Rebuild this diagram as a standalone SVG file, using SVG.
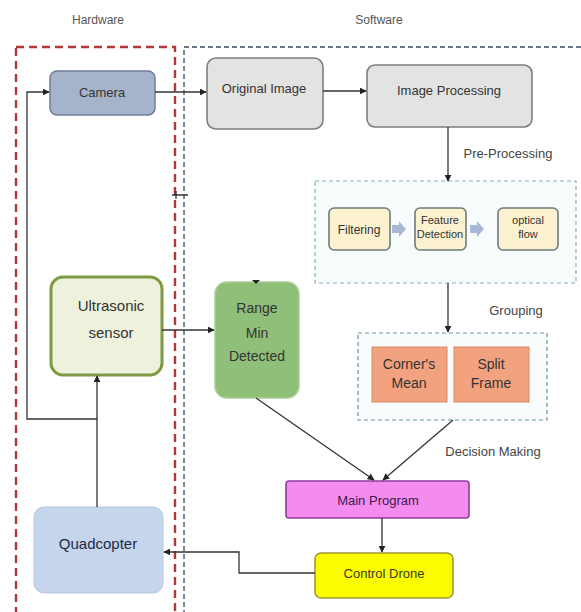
<svg xmlns="http://www.w3.org/2000/svg" width="581" height="612" viewBox="0 0 581 612">
<defs>
<style>
text{font-family:"Liberation Sans",Arial,sans-serif;fill:#333;text-anchor:middle;dominant-baseline:central}
.lbl{font-size:13px;fill:#444}
.hdr{font-size:12px;fill:#555}
.con{fill:none;stroke:#333;stroke-width:1.3}
.sm{font-size:11px}
.pb{fill:#fcf2cf;stroke:#6e7b7b;stroke-width:1.6}
.cb{fill:#f2a27f;stroke:#d98a62;stroke-width:1}
</style>
<marker id="ah" viewBox="0 0 10 10" refX="9" refY="5" markerWidth="7" markerHeight="7" orient="auto" markerUnits="userSpaceOnUse">
<path d="M0,0 L10,5 L0,10 z" fill="#222"/>
</marker>
</defs>
<rect width="581" height="612" fill="#fff"/>
<text class="hdr" x="98" y="20">Hardware</text>
<text class="hdr" x="379" y="20">Software</text>
<g id="hardware-area"><rect x="16" y="47" width="159" height="580" fill="none" stroke="#b03838" stroke-width="2.4" stroke-dasharray="8,5"/></g>
<g id="software-area"><rect x="184" y="47" width="400" height="580" fill="none" stroke="#3d4a66" stroke-width="1.3" stroke-dasharray="5,3"/></g>
<g id="pre-processing-box"><rect x="315" y="181" width="261" height="102" fill="#f8fcfd" stroke="#86aebb" stroke-width="1.2" stroke-dasharray="4,3"/></g>
<g id="grouping-box"><rect x="358" y="333" width="189" height="87" fill="#f8fcfd" stroke="#6f8fa0" stroke-width="1.2" stroke-dasharray="4,3"/></g>

<g id="camera"><rect x="50" y="71" width="105" height="44" rx="7" fill="#a5b3cb" stroke="#6f7f99" stroke-width="1.5"/><text x="102" y="92" font-size="13">Camera</text></g>
<g id="original-image"><rect x="207" y="58" width="116" height="71" rx="9" fill="#e3e3e3" stroke="#7d7d7d" stroke-width="1.6"/><text x="264" y="88" font-size="13">Original Image</text></g>
<g id="image-processing"><rect x="367" y="65" width="165" height="62" rx="8" fill="#e3e3e3" stroke="#7d7d7d" stroke-width="1.6"/><text x="449" y="90" font-size="13">Image Processing</text></g>
<g id="filtering"><rect class="pb" x="329" y="208" width="61" height="42" rx="5"/><text x="359" y="230" font-size="12">Filtering</text></g>
<g id="feature-detection"><rect class="pb" x="415" y="208" width="51" height="42" rx="5"/><text class="sm" x="440" y="220">Feature</text><text class="sm" x="440" y="234">Detection</text></g>
<g id="optical-flow"><rect class="pb" x="498" y="208" width="60" height="42" rx="5"/><text class="sm" x="528" y="220">optical</text><text class="sm" x="528" y="234">flow</text></g>
<g id="corners-mean"><rect class="cb" x="372" y="347" width="75" height="55"/><text x="409" y="364" font-size="14">Corner's</text><text x="409" y="383" font-size="14">Mean</text></g>
<g id="split-frame"><rect class="cb" x="454" y="347" width="75" height="55"/><text x="491" y="364" font-size="14">Split</text><text x="491" y="383" font-size="14">Frame</text></g>
<g id="ultrasonic-sensor"><rect x="51" y="277" width="111" height="98" rx="12" fill="#eef2dd" stroke="#7f9a44" stroke-width="3"/><text x="111" y="305" font-size="15">Ultrasonic</text><text x="111" y="332" font-size="15">sensor</text></g>
<g id="range-min-detected"><rect x="215" y="282" width="84" height="116" rx="12" fill="#8fbf78" stroke="#a9cf96" stroke-width="1.5"/><text x="257" y="308" font-size="14">Range</text><text x="257" y="333" font-size="14">Min</text><text x="257" y="356" font-size="14">Detected</text></g>
<g id="main-program"><rect x="286" y="481" width="183" height="37" rx="3" fill="#f48cf0" stroke="#8e3b9a" stroke-width="1.6"/><text x="378" y="500" font-size="13" style="fill:#3a1a48">Main Program</text></g>
<g id="control-drone"><rect x="315" y="553" width="138" height="45" rx="6" fill="#fcfc00" stroke="#9e9a3a" stroke-width="1.6"/><text x="384" y="573" font-size="13" style="fill:#3a3a1a">Control Drone</text></g>
<g id="quadcopter"><rect x="34" y="507" width="129" height="86" rx="10" fill="#c4d5ec" stroke="#b5c6df" stroke-width="1"/><text x="98" y="543" font-size="15" style="fill:#1f2a40">Quadcopter</text></g>

<text class="lbl" x="508" y="153">Pre-Processing</text>
<text class="lbl" x="516" y="310">Grouping</text>
<text class="lbl" x="493" y="451">Decision Making</text>

<g id="connectors">
<path class="con" d="M155,92 H206" marker-end="url(#ah)"/>
<path class="con" d="M323,91 H366" marker-end="url(#ah)"/>
<path class="con" d="M448,127 V181" marker-end="url(#ah)"/>
<path class="con" d="M448,283 V332" marker-end="url(#ah)"/>
<path class="con" d="M162,330 H214" marker-end="url(#ah)"/>
<path class="con" d="M256,398 L374,480" marker-end="url(#ah)"/>
<path class="con" d="M453,420 L383,480" marker-end="url(#ah)"/>
<path class="con" d="M382,518 V552" marker-end="url(#ah)"/>
<path class="con" d="M315,573 H239 V552 H164" marker-end="url(#ah)"/>
<path class="con" d="M97,507 V376" marker-end="url(#ah)"/>
<path class="con" d="M97,419 H27 V92 H49" marker-end="url(#ah)"/>
<path d="M392,225 h7 v-4 l7,8 l-7,8 v-4 h-7 z" fill="#a9b8d6"/>
<path d="M470,225 h7 v-4 l7,8 l-7,8 v-4 h-7 z" fill="#a9b8d6"/>
<path d="M252,280 l4,4 l4,-4 z" fill="#222"/>
<path class="con" d="M172,195 H188 M176,191 V199"/>
</g>
</svg>
